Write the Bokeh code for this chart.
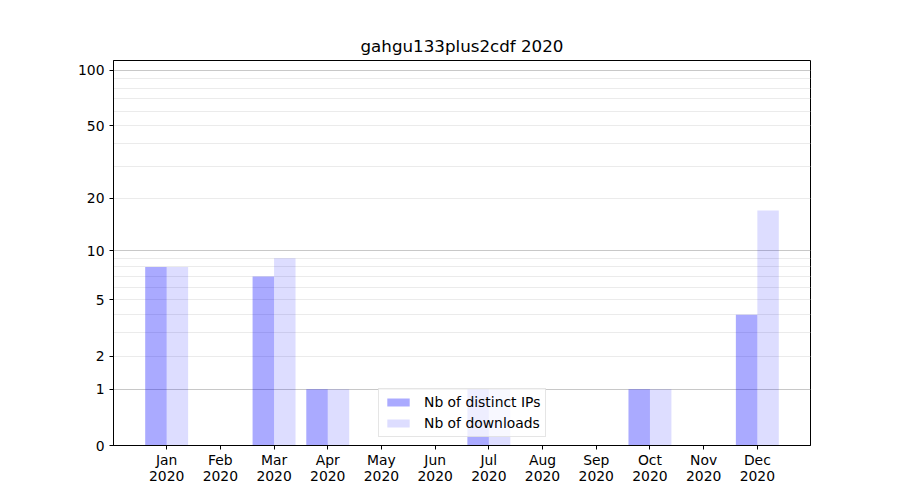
from bokeh.plotting import figure
from bokeh.models import (Range1d, FixedTicker, Grid, ColumnDataSource, Legend, LegendItem)
from bokeh.transform import dodge
from bokeh.embed import file_html
from bokeh.resources import INLINE

# ---- data ----
months = ["Jan", "Feb", "Mar", "Apr", "May", "Jun", "Jul", "Aug", "Sep", "Oct", "Nov", "Dec"]
year = "2020"
distinct_ips = [8, 0, 7, 1, 0, 0, 1, 0, 0, 1, 0, 4]
downloads = [8, 0, 9, 1, 0, 0, 1, 0, 0, 1, 0, 17]
ytick_values = [0, 1, 2, 5, 10, 20, 50, 100]
major_grid_values = [1, 10, 100]
minor_grid_values = [2, 3, 4, 5, 6, 7, 8, 9, 20, 30, 40, 50, 60, 70, 80, 90]
title_text = "gahgu133plus2cdf 2020"

# log10(1 + v) scale: plot on log axis with shifted values
idx = list(range(len(months)))
src = ColumnDataSource(dict(
    x=idx,
    ips=[v + 1 for v in distinct_ips],
    dl=[v + 1 for v in downloads],
))

FONT = "DejaVu Sans"

p = figure(width=892, height=492, output_backend="svg", toolbar_location=None,
           y_axis_type="log",
           x_range=Range1d(-0.99, 11.99), y_range=Range1d(1, 114),
           min_border_left=113, min_border_right=82, min_border_top=60, min_border_bottom=47)
p.title.text = title_text
p.title.align = "center"
p.title.text_font = FONT
p.title.text_font_size = "16.7px"
p.title.text_font_style = "normal"
p.title.text_color = "#000000"

r1 = p.vbar(x=dodge("x", -0.2, range=p.x_range), top="ips", bottom=1, width=0.4, source=src,
            fill_color="blue", fill_alpha=0.333, line_color=None)
r2 = p.vbar(x=dodge("x", 0.2, range=p.x_range), top="dl", bottom=1, width=0.4, source=src,
            fill_color="blue", fill_alpha=0.133, line_color=None)

# grids
p.xgrid.visible = False
p.ygrid.visible = False
g = Grid(dimension=1,
         ticker=FixedTicker(ticks=[v + 1 for v in major_grid_values],
                            minor_ticks=[v + 1 for v in minor_grid_values]),
         grid_line_color="#c8c8c8", grid_line_width=1,
         minor_grid_line_color="#ebebeb", minor_grid_line_width=1,
         level="underlay")
p.add_layout(g)

# axes
p.xaxis.ticker = FixedTicker(ticks=idx)
p.xaxis.major_label_overrides = {i: f"{m}\n{year}" for i, m in enumerate(months)}
p.xaxis.major_label_text_line_height = 1.0
p.yaxis.ticker = FixedTicker(ticks=[v + 1 for v in ytick_values], minor_ticks=[])
p.yaxis.major_label_overrides = {v + 1: str(v) for v in ytick_values}
for ax in (p.xaxis, p.yaxis):
    ax.major_label_text_font = FONT
    ax.major_label_text_font_size = "13.9px"
    ax.major_label_text_color = "#000000"
    ax.axis_line_color = "#000000"
    ax.major_tick_line_color = "#000000"
    ax.major_tick_out = 4
    ax.major_tick_in = 0
    ax.minor_tick_out = 0
    ax.minor_tick_in = 0
p.xaxis.major_label_standoff = 2
p.yaxis.major_label_standoff = 5
p.outline_line_color = "#000000"
p.outline_line_alpha = 1
p.outline_line_width = 1

legend = Legend(items=[LegendItem(label="Nb of distinct IPs", renderers=[r1]),
                       LegendItem(label="Nb of downloads", renderers=[r2])],
                location=(265, 8))
legend.label_text_font = FONT
legend.label_text_font_size = "13.9px"
legend.label_text_color = "#000000"
legend.border_line_color = "#cccccc"
legend.border_line_width = 1
legend.background_fill_alpha = 0.8
legend.glyph_width = 28
legend.glyph_height = 10
legend.label_standoff = 12
legend.spacing = 5
legend.padding = 5
legend.margin = 0
legend.label_height = 14
p.add_layout(legend, "center")

open("out.html", "w").write(file_html(p, INLINE))
